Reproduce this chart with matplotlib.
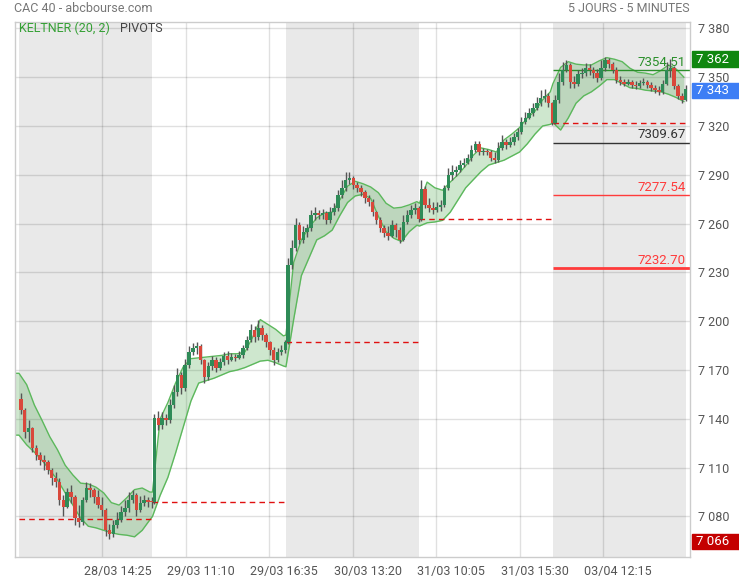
import numpy as np
import matplotlib
matplotlib.use("Agg")
from matplotlib import pyplot as plt
from matplotlib import transforms
from matplotlib.patches import Rectangle
from matplotlib.ticker import FuncFormatter

plt.rcParams['font.family'] = ['Roboto', 'DejaVu Sans']

# sessions shown (5 days), candles at 15 min resolution
sessions = ['28/03', '29/03', '30/03', '31/03', '03/04']
first_open = 7152

close = [
    # 28/03
    7145.5, 7132, 7134.5, 7122, 7118, 7114.5, 7113.5, 7108.5, 7103.5, 7101,
    7090, 7086, 7095, 7092, 7079, 7076.5, 7090, 7097.5, 7096, 7092,
    7087, 7084, 7071.5, 7069, 7075, 7078, 7083, 7085, 7090, 7093,
    7084, 7088, 7090, 7089, 7088.7,
    # 29/03
    7140.5, 7136, 7140.5, 7139.5, 7148.5, 7156.5, 7167, 7159, 7173, 7181,
    7183.5, 7185, 7176, 7165.5, 7172.5, 7176, 7171.5, 7175, 7178.5, 7176,
    7178, 7177.5, 7179.5, 7183.5, 7188.5, 7194.5, 7190.5, 7196, 7191.5, 7187,
    7182.5, 7176, 7181, 7182.5, 7187.1,
    # 30/03
    7234.5, 7245, 7259, 7250, 7255, 7257.5, 7265.5, 7266.5, 7265.5, 7266.5,
    7262, 7267, 7269.5, 7277.5, 7282, 7287, 7288, 7283.5, 7282, 7279.5,
    7275.5, 7273.5, 7267, 7262, 7257.5, 7254, 7252.5, 7259, 7256, 7250,
    7261, 7265.5, 7268.5, 7269.5, 7262.9,
    # 31/03
    7281, 7271.5, 7269.5, 7268.5, 7270, 7271.5, 7282, 7290, 7292, 7293,
    7296, 7297.5, 7300.5, 7305.5, 7309, 7304, 7304.5, 7304, 7300.5, 7299,
    7306.5, 7310, 7308.5, 7310, 7313.5, 7316.5, 7322.5, 7325, 7328, 7331,
    7334, 7337, 7338.5, 7334, 7321.7,
    # 03/04
    7336, 7347, 7354.5, 7357.5, 7347, 7346, 7352, 7352.5, 7355.5, 7354.5,
    7352.5, 7349.5, 7355.5, 7360.5, 7358, 7354.5, 7348.5, 7347, 7346, 7347,
    7345, 7344.5, 7346.5, 7347, 7345, 7343.5, 7342, 7341, 7346, 7354.5,
    7355.5, 7344.5, 7338.5, 7336, 7343,
]

high = [
    7156, 7146.5, 7139.5, 7135, 7124, 7119.5, 7118, 7114.5, 7110, 7107.5,
    7103.5, 7093, 7097.5, 7099.5, 7093, 7087, 7092, 7101, 7100.5, 7097.5,
    7096, 7092, 7085, 7075.5, 7078, 7083, 7086.5, 7090, 7095, 7096,
    7094.5, 7092.5, 7093.5, 7092, 7092,
    7143, 7145, 7144.5, 7143, 7152, 7161, 7171, 7169, 7177, 7185,
    7186.5, 7187, 7186, 7177, 7175, 7178.5, 7178, 7177.5, 7181, 7181.5,
    7180.5, 7180, 7181.5, 7185.5, 7191, 7198.5, 7197, 7201, 7197.5, 7193,
    7188, 7184, 7183.5, 7185.5, 7188.5,
    7239, 7250, 7263.5, 7261, 7258.5, 7260, 7268.5, 7270, 7268.5, 7269,
    7267.5, 7270, 7272.5, 7280.5, 7287, 7292, 7291.5, 7289, 7285.5, 7284,
    7280.5, 7277.5, 7275, 7268, 7264, 7259, 7258.5, 7262, 7260.5, 7258,
    7265.5, 7268.5, 7271.5, 7272.5, 7271,
    7287, 7283, 7275.5, 7273, 7273, 7274.5, 7284, 7294, 7296, 7295.5,
    7299, 7300.5, 7302.5, 7308.5, 7311, 7310.5, 7306.5, 7306, 7305, 7304,
    7310, 7314.5, 7312, 7313, 7315.5, 7318.5, 7325.5, 7328.5, 7331, 7334,
    7338, 7342, 7342.5, 7340.5, 7335,
    7339, 7352.5, 7359.5, 7360.5, 7358.5, 7351, 7354.5, 7355.5, 7358.5, 7358,
    7356.5, 7355, 7360.5, 7362.3, 7361.5, 7359.5, 7356.5, 7350.5, 7349, 7349,
    7348, 7347.5, 7348.5, 7349.5, 7348, 7347, 7345, 7344.5, 7348, 7359.5,
    7361, 7357, 7346, 7340, 7345,
]

low = [
    7143, 7128, 7126, 7119.5, 7115, 7111.5, 7108.5, 7106, 7099.5, 7098,
    7087, 7080.5, 7085, 7088, 7075, 7073.5, 7075, 7089, 7092, 7088,
    7085.5, 7080, 7068, 7066, 7067.5, 7073, 7076.5, 7080, 7083, 7088,
    7080, 7082.5, 7086.5, 7086, 7085.5,
    7087.5, 7133, 7134, 7136.5, 7137.5, 7146.5, 7154, 7155, 7157, 7171,
    7179, 7180, 7173.5, 7162, 7164, 7170, 7169, 7170, 7173, 7174,
    7175.5, 7175.5, 7176.5, 7177.5, 7182.5, 7187, 7187, 7188.5, 7188.5, 7184,
    7179, 7173, 7175, 7179.5, 7180.5,
    7186, 7232, 7243, 7247.5, 7248, 7252, 7255.5, 7262, 7263, 7263,
    7260, 7260.5, 7265, 7268, 7276, 7280, 7284.5, 7281.5, 7279.5, 7277,
    7272.5, 7271, 7264.5, 7259.5, 7255, 7251.5, 7250, 7252, 7252, 7248,
    7249, 7259.5, 7263.5, 7266, 7261,
    7261.5, 7269.5, 7267, 7266, 7267, 7268, 7270.5, 7280.5, 7287, 7289.5,
    7291.5, 7294.5, 7296.5, 7298.5, 7304, 7302, 7302, 7302, 7298.5, 7297.5,
    7298, 7305, 7306, 7307, 7308.5, 7311.5, 7315, 7321.5, 7324, 7326,
    7330, 7332, 7335, 7331.5, 7320.5,
    7321, 7334, 7345, 7353, 7343.5, 7343.5, 7344.5, 7349.5, 7351, 7351.5,
    7349.5, 7347, 7348.5, 7353.5, 7355.5, 7352.5, 7346.5, 7345, 7344.5, 7345,
    7343.5, 7343, 7343.5, 7345, 7343.5, 7341.5, 7340, 7339, 7339.5, 7345,
    7350, 7342.5, 7336.5, 7334, 7335.5,
]

# Keltner (20, 2) channel read every 30 minutes (18 points per session)
kelt_upper = [
    7168, 7161, 7148.5, 7139, 7129, 7121, 7111.5, 7105.5, 7100.5, 7100, 7098, 7094.5, 7088.5, 7087, 7091.5, 7096.5, 7097.5, 7095,
    7095, 7140, 7150, 7162, 7172, 7177, 7177.5, 7178, 7178.5, 7179, 7180, 7180, 7181, 7190, 7201, 7198, 7195, 7191,
    7191.5, 7236, 7250, 7257.5, 7263.5, 7266.5, 7267, 7274.5, 7283, 7286, 7284.5, 7282.5, 7279, 7272.5, 7269.5, 7270, 7271.5, 7273.5,
    7272.5, 7285.5, 7282, 7280.5, 7285.5, 7290, 7295.5, 7302, 7306.5, 7305.5, 7304, 7311.5, 7315, 7319, 7325, 7329, 7336, 7341,
    7346, 7356, 7359.5, 7358, 7357.5, 7357.5, 7360, 7362, 7361, 7359.5, 7355.5, 7353, 7352.5, 7351.5, 7354, 7357.5, 7355, 7350,
]
kelt_lower = [
    7130, 7124, 7119.5, 7114.5, 7108.5, 7102.5, 7094.5, 7087, 7079, 7074, 7073, 7071.5, 7070, 7069, 7068.5, 7067.5, 7071.5, 7078,
    7080, 7093, 7104, 7119, 7135, 7151, 7162, 7163.5, 7165, 7167, 7169, 7170, 7171.5, 7173.5, 7175.5, 7176, 7174.5, 7172.5,
    7172, 7201, 7228, 7239, 7250, 7252.5, 7256, 7265, 7273, 7277, 7278, 7275.5, 7264.5, 7255, 7251, 7249, 7255, 7259,
    7258.5, 7260.5, 7261, 7262, 7267, 7274.5, 7282, 7287, 7292, 7296, 7297.5, 7299, 7301.5, 7304, 7309, 7315, 7320, 7321,
    7322, 7317.5, 7325, 7334, 7338.5, 7341, 7344.5, 7348.5, 7348.5, 7346, 7343.5, 7343, 7342, 7341.5, 7341, 7339.5, 7337.5, 7335,
]

# previous close of each session, and pivots of the last session
prev_close = [7078.3, 7088.7, 7187.1, 7262.9, 7321.7]
pivot_levels = [7354.51, 7309.67, 7277.54, 7232.70]
pivot_colors = ['#2a8f2a', '#333333', '#ff3b3b', '#ff3b3b']
pivot_widths = [1, 1, 1, 2]

tick_labels = ['28/03 14:25', '29/03 11:10', '29/03 16:35', '30/03 13:20',
               '31/03 10:05', '31/03 15:30', '03/04 12:15']

SLOTS = 104          # 5 min slots per session (09:00 -> 17:35)
PER_DAY = 35         # 15 min candles per session


def slot_of(label):
    day, hm = label.split()
    h, m = map(int, hm.split(':'))
    return sessions.index(day) * SLOTS + (h * 60 + m - 540) // 5


close = np.array(close)
high = np.array(high)
low = np.array(low)
opens = np.r_[first_open, close[:-1]]
n = len(close)
cx = np.array([(i // PER_DAY) * SLOTS + (i % PER_DAY) * 3 + 1.5 for i in range(n)])

kx = np.array([(i // 18) * SLOTS + (i % 18) * 6 for i in range(len(kelt_upper))], dtype=float)

xmin, xmax = -3.1, 522.8
ymin, ymax = 7055.1, 7383.9

fig = plt.figure(figsize=(7.39, 5.80), dpi=100)
ax = fig.add_axes([15 / 739, 23 / 580, 675 / 739, 535 / 580])
ax.set_xlim(xmin, xmax)
ax.set_ylim(ymin, ymax)
px_per_pt = 535 / (ymax - ymin)

# alternate shaded sessions
for d in range(0, len(sessions), 2):
    ax.axvspan(d * SLOTS, (d + 1) * SLOTS, color='#e9e9e9', lw=0, zorder=0)

# keltner band (extended flat to the left edge)
bx = np.r_[xmin, kx]
bu = np.r_[kelt_upper[0], kelt_upper]
bl = np.r_[kelt_lower[0], kelt_lower]
ax.fill_between(bx, bl, bu, color='#3ca03c', alpha=0.25, lw=0, zorder=1)
ax.plot(bx, bu, color='#5cb85c', lw=1, zorder=1.5)
ax.plot(bx, bl, color='#5cb85c', lw=1, zorder=1.5)

# previous close lines
for d, v in enumerate(prev_close):
    ax.hlines(v, d * SLOTS, (d + 1) * SLOTS, colors='#e01010', lw=1,
              linestyles=(0, (4, 3)), zorder=2)

# pivots on the last session
last_start = (len(sessions) - 1) * SLOTS
for v, c, w in zip(pivot_levels, pivot_colors, pivot_widths):
    ax.hlines(v, last_start, xmax, colors=c, lw=w, zorder=2)
    ax.text(519.5, v + 0.8, f"{v:.2f}", color=c, fontsize=9.5,
            ha='right', va='bottom', zorder=4)

# candles
up = close >= opens
ax.vlines(cx, low, high, colors='#555555', lw=1.0, zorder=3)
body = np.where(np.abs(close - opens) < 0.5, 0.5, close - opens)
ax.bar(cx, body, bottom=opens, width=2.7,
       color=np.where(up, '#2e8b57', '#d9483b'), lw=0, zorder=3.5)

# axes styling
ax.set_xticks([slot_of(t) for t in tick_labels])
ax.set_xticklabels(tick_labels)
ax.set_yticks(np.arange(7080, 7381, 30))
ax.yaxis.set_major_formatter(FuncFormatter(lambda v, p: f"{v:,.0f}".replace(',', ' ')))
ax.yaxis.tick_right()
ax.tick_params(axis='both', length=0, colors='#555555', labelsize=9)
ax.tick_params(axis='y', pad=6)
ax.tick_params(axis='x', pad=6)
shift = transforms.ScaledTranslation(15 / 100, 0, fig.dpi_scale_trans)
for lab in ax.get_xticklabels():
    lab.set_transform(lab.get_transform() + shift)
ax.grid(True, color='k', alpha=0.12, lw=1)
ax.set_axisbelow(True)
for s in ax.spines.values():
    s.set_color('#cccccc')
    s.set_linewidth(1)

# right side value boxes: high, last, low (sit ~2 px under their level)
blend = transforms.blended_transform_factory(fig.transFigure, ax.transData)
box_h = 15.5 / px_per_pt
drop = 2 / px_per_pt
for v, c in [(high.max(), '#0f870f'), (close[-1], '#3d7ef5'), (low.min(), '#c40000')]:
    ax.add_patch(Rectangle((692 / 739, v - drop - box_h / 2), 47 / 739, box_h,
                           transform=blend, color=c, clip_on=False, zorder=5))
    ax.text(696 / 739, v - drop, f"{v:,.0f}".replace(',', ' '), transform=blend,
            color='white', fontsize=9.5, va='center', ha='left', zorder=6)

# header texts
fig.text(14 / 739, 1 - 8 / 580, 'CAC 40 - abcbourse.com', color='#777777',
         fontsize=9, va='center', ha='left')
fig.text(690 / 739, 1 - 8 / 580, '5 JOURS - 5 MINUTES', color='#777777',
         fontsize=9, va='center', ha='right')
fig.text(19 / 739, 1 - 28 / 580, 'KELTNER (20, 2)', color='#35a035',
         fontsize=9, va='center', ha='left')
fig.text(120 / 739, 1 - 28 / 580, 'PIVOTS', color='#444444',
         fontsize=9, va='center', ha='left')

fig.savefig('out.png', dpi=100)
